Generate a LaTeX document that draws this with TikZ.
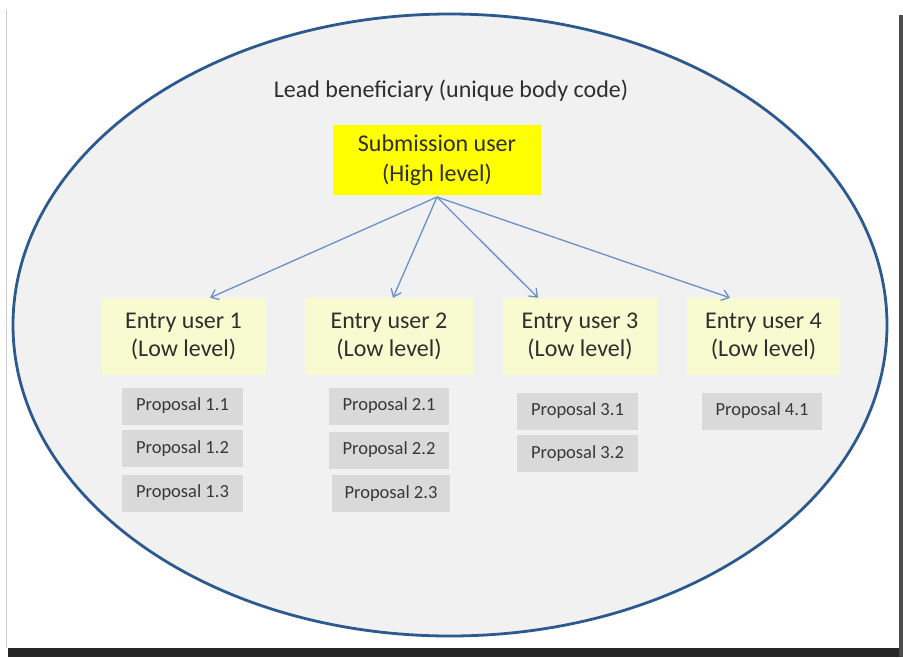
\documentclass[tikz,border=0pt]{standalone}
\usepackage{fontspec}
\setmainfont{Carlito}
\usetikzlibrary{arrows.meta}
\definecolor{ellfill}{HTML}{F1F1F1}
\definecolor{elldraw}{HTML}{2C5A8E}
\definecolor{arrowc}{HTML}{6B90C8}
\definecolor{subfill}{HTML}{FFFF00}
\definecolor{entfill}{HTML}{F7FBCF}
\definecolor{propfill}{HTML}{D9D9D9}
\definecolor{txt}{HTML}{2E2E2E}
\definecolor{ptxt}{HTML}{383838}
\tikzset{
  subbox/.style={fill=subfill, text=txt, minimum width=208pt, minimum height=70pt, align=center, inner sep=0pt, font=\fontsize{24}{30}\selectfont},
  entbox/.style={fill=entfill, text=txt, minimum height=77pt, align=center, inner sep=0pt, font=\fontsize{24}{28}\selectfont},
  propbox/.style={fill=propfill, text=ptxt, minimum height=37pt, inner sep=0pt, font=\fontsize{18.5}{20}\selectfont},
  conn/.style={draw=arrowc, line width=1.3pt, -{Straight Barb[length=7pt,width=11pt]}},
}
\begin{document}
\begin{tikzpicture}[x=1pt,y=-1pt]
\useasboundingbox (0,0) rectangle (903,657);
% frame and shadow
\fill[black!85] (8,648) rectangle (903,657);
\fill[black!70] (899,15) rectangle (903,657);
\fill[white] (6,8) rectangle (899,648);
\draw[black!20, line width=0.8pt] (6,10) -- (6,648);
% ellipse
\draw[fill=ellfill, draw=elldraw, line width=2.8pt] (450,325) ellipse [x radius=437, y radius=311];
\node[text=txt, font=\fontsize{24}{28}\selectfont] (title) at (451,91) {Lead beneficiary (unique body code)};
\node[subbox] (sub) at (437,160) {Submission user\\(High level)};
\node[entbox, minimum width=164pt] (e1) at (183.5,336.5) {Entry user 1\\(Low level)};
\node[entbox, minimum width=168pt] (e2) at (389,336.5) {Entry user 2\\(Low level)};
\node[entbox, minimum width=154pt] (e3) at (580,336.5) {Entry user 3\\(Low level)};
\node[entbox, minimum width=153pt] (e4) at (763.5,336.5) {Entry user 4\\(Low level)};
% proposals
\node[propbox, minimum width=121pt] (p11) at (182.5,406) {Proposal 1.1};
\node[propbox, minimum width=121pt] (p12) at (182.5,448.5) {Proposal 1.2};
\node[propbox, minimum width=121pt] (p13) at (182.5,493) {Proposal 1.3};
\node[propbox, minimum width=120pt] (p21) at (389,406) {Proposal 2.1};
\node[propbox, minimum width=120pt] (p22) at (389,450) {Proposal 2.2};
\node[propbox, minimum width=118pt] (p23) at (391,493.5) {Proposal 2.3};
\node[propbox, minimum width=121pt] (p31) at (577.5,411) {Proposal 3.1};
\node[propbox, minimum width=121pt] (p32) at (577.5,453.5) {Proposal 3.2};
\node[propbox, minimum width=120pt] (p41) at (762,411) {Proposal 4.1};
% connectors
\coordinate (src) at (437,197);
\draw[conn] (src) -- ([xshift=26.5pt]e1.north);
\draw[conn] (src) -- ([xshift=4pt]e2.north);
\draw[conn] (src) -- ([xshift=-42pt]e3.north);
\draw[conn] (src) -- ([xshift=-33.5pt]e4.north);
\end{tikzpicture}
\end{document}
